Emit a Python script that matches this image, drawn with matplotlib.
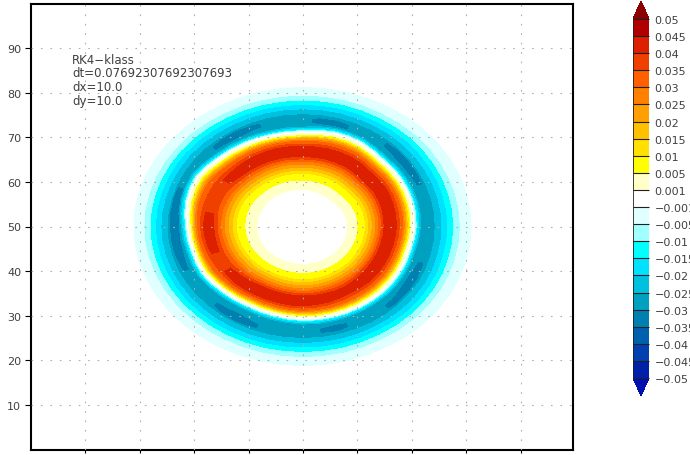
import numpy as np
import matplotlib
matplotlib.use('Agg')
import matplotlib.pyplot as plt

levels = [-0.05, -0.045, -0.04, -0.035, -0.03, -0.025, -0.02, -0.015, -0.01, -0.005, -0.001,
          0.001, 0.005, 0.01, 0.015, 0.02, 0.025, 0.03, 0.035, 0.04, 0.045, 0.05]
level_labels = ['−0.05', '−0.045', '−0.04', '−0.035', '−0.03', '−0.025', '−0.02', '−0.015', '−0.01', '−0.005', '−0.001',
                '0.001', '0.005', '0.01', '0.015', '0.02', '0.025', '0.03', '0.035', '0.04', '0.045', '0.05']
band_colors = ['#0020a8', '#0040b0', '#0060b0', '#0080b0', '#00a0c0', '#00c0e0', '#00e0ff', '#00ffff',
               '#a0ffff', '#e0ffff', '#ffffff', '#ffffc8', '#ffff00', '#ffe000', '#ffc000', '#ffa000',
               '#ff8000', '#ff6000', '#f04000', '#dc2000', '#b00000']
under_color = '#0010b0'
over_color = '#8b0000'

# ring, one entry per 7.5 degrees starting on the +x side
angles = np.arange(0, 360, 7.5)
inner_r = [8.2, 8.2, 8.2, 8.1, 8.0, 7.9, 7.9, 7.9, 8.0, 8.1, 8.2, 8.25,
           8.3, 8.35, 8.4, 8.45, 8.5, 8.5, 8.5, 8.5, 8.5, 8.5, 8.5, 8.5,
           8.5, 8.5, 8.5, 8.5, 8.5, 8.5, 8.5, 8.5, 8.5, 8.5, 8.5, 8.5,
           8.5, 8.5, 8.5, 8.45, 8.4, 8.4, 8.4, 8.35, 8.3, 8.3, 8.3, 8.25]
peak_r = [16.0, 16.05, 16.1, 16.2, 16.3, 16.25, 16.2, 16.45, 16.7, 16.75, 16.8, 16.8,
          16.8, 16.9, 17.0, 17.0, 17.0, 17.0, 17.0, 17.2, 17.4, 17.45, 17.5, 17.45,
          17.4, 17.3, 17.2, 17.1, 17.0, 16.9, 16.8, 16.65, 16.5, 16.55, 16.6, 16.65,
          16.7, 16.65, 16.6, 16.5, 16.4, 16.3, 16.2, 16.1, 16.0, 15.95, 15.9, 15.95]
peak_val = [0.044, 0.044, 0.044, 0.044, 0.044, 0.044, 0.044, 0.044, 0.044, 0.044, 0.044, 0.044,
            0.044, 0.044, 0.044, 0.0435, 0.043, 0.0425, 0.0415, 0.0405, 0.0385, 0.0385, 0.039, 0.0405,
            0.042, 0.0415, 0.041, 0.0395, 0.039, 0.0405, 0.042, 0.043, 0.044, 0.044, 0.044, 0.044,
            0.044, 0.043, 0.0425, 0.0415, 0.041, 0.042, 0.044, 0.044, 0.044, 0.044, 0.044, 0.044]
zero_r = [20.3, 20.4, 20.5, 20.55, 20.6, 20.6, 20.6, 20.9, 21.3, 21.45, 21.5, 21.25,
          21.0, 21.0, 21.0, 21.1, 21.2, 21.35, 21.5, 21.85, 22.2, 22.05, 21.8, 21.45,
          21.1, 20.95, 20.8, 20.85, 20.9, 20.65, 20.4, 20.25, 20.1, 20.2, 20.3, 20.45,
          20.6, 20.6, 20.6, 20.55, 20.5, 20.45, 20.4, 20.3, 20.2, 20.1, 20.0, 20.15]
trough_r = [23.0, 23.15, 23.3, 23.4, 23.5, 23.65, 23.8, 23.8, 23.8, 23.8, 23.8, 23.8,
            23.8, 23.9, 24.0, 24.0, 24.0, 24.0, 24.0, 24.15, 24.3, 24.15, 24.0, 23.8,
            23.6, 23.6, 23.6, 23.6, 23.6, 23.65, 23.7, 23.85, 24.0, 23.9, 23.8, 23.7,
            23.6, 23.6, 23.6, 23.6, 23.6, 23.7, 23.8, 23.55, 23.3, 23.15, 23.0, 23.0]
trough_val = [-0.0285, -0.0285, -0.029, -0.0298, -0.032, -0.033, -0.032, -0.0295, -0.029, -0.0295, -0.0318, -0.031,
              -0.029, -0.029, -0.0295, -0.0305, -0.033, -0.032, -0.0295, -0.029, -0.029, -0.0295, -0.033, -0.034,
              -0.034, -0.0338, -0.033, -0.0305, -0.029, -0.029, -0.0295, -0.0315, -0.033, -0.0305, -0.029, -0.029,
              -0.0293, -0.030, -0.0315, -0.0295, -0.029, -0.0295, -0.031, -0.0325, -0.033, -0.0305, -0.029, -0.0285]
band_r = [24.3, 24.35, 24.4, 24.5, 24.6, 24.75, 24.9, 25.0, 25.1, 25.2, 25.3, 25.3,
          25.3, 25.3, 25.3, 25.25, 25.2, 25.2, 25.2, 25.15, 25.1, 25.05, 25.0, 25.0,
          25.0, 25.0, 25.0, 25.0, 25.0, 25.0, 25.0, 25.05, 25.1, 25.1, 25.1, 25.1,
          25.1, 25.1, 25.1, 25.05, 25.0, 24.95, 24.9, 24.8, 24.7, 24.55, 24.4, 24.35]
outer_r = [31.1, 31.1, 31.1, 31.15, 31.2, 31.25, 31.3, 31.3, 31.3, 31.35, 31.4, 31.4,
           31.4, 31.4, 31.4, 31.35, 31.3, 31.3, 31.3, 31.3, 31.3, 31.3, 31.3, 31.3,
           31.25, 31.3, 31.3, 31.3, 31.3, 31.3, 31.3, 31.3, 31.3, 31.35, 31.4, 31.4,
           31.4, 31.4, 31.4, 31.35, 31.3, 31.3, 31.3, 31.25, 31.2, 31.15, 31.1, 31.1]

rise_vals = [0.001, 0.005, 0.01, 0.015, 0.02, 0.025, 0.03]
rise_pos = [0.0, 0.27, 0.46, 0.55, 0.64, 0.73, 0.81]
fall_vals = [0.03, 0.025, 0.02, 0.015, 0.01, 0.005, 0.001]
fall_pos = [0.44, 0.53, 0.62, 0.68, 0.74, 0.82, 0.97]
edge_vals = [-0.001, -0.005, -0.01, -0.015, -0.02, -0.025]
edge_off = [0.1, 0.3, 0.5, 0.7, 1.0, 1.3]
tail_vals = [-0.025, -0.02, -0.015, -0.01, -0.005, -0.001]
tail_pos = [0.0, 0.18, 0.34, 0.5, 0.68, 1.0]
plateau = 0.7
trough_plateau = 0.6

xticks = [10, 20, 30, 40, 50, 60, 70, 80, 90]
yticks = [10, 20, 30, 40, 50, 60, 70, 80, 90]
notes = ['RK4−klass', 'dt=0.07692307692307693', 'dx=10.0', 'dy=10.0']
note_y = [60, 74, 88, 102]

inner_r, peak_r, peak_val = np.array(inner_r), np.array(peak_r), np.array(peak_val)
zero_r, trough_r, trough_val = np.array(zero_r), np.array(trough_r), np.array(trough_val)
band_r, outer_r = np.array(band_r), np.array(outer_r)

radii = [inner_r - 2]
values = [0 * inner_r]
for v, p in zip(rise_vals, rise_pos):
    radii.append(inner_r + p * (peak_r - plateau - inner_r))
    values.append(v + 0 * inner_r)
radii += [peak_r - plateau, peak_r + plateau]
values += [peak_val, peak_val]
for v, p in zip(fall_vals, fall_pos):
    radii.append(peak_r + plateau + p * (zero_r - peak_r - plateau))
    values.append(v + 0 * inner_r)
for v, o in zip(edge_vals, edge_off):
    radii.append(zero_r + o)
    values.append(v + 0 * inner_r)
radii += [trough_r - trough_plateau, trough_r + trough_plateau]
values += [trough_val, trough_val]
for v, p in zip(tail_vals, tail_pos):
    radii.append(band_r + p * (outer_r - band_r))
    values.append(v + 0 * inner_r)
radii.append(outer_r + 1.5)
values.append(0 * inner_r)

radii = np.array(radii).T
values = np.array(values).T
radii = np.vstack([radii, radii[0]])
values = np.vstack([values, values[0]])
theta = np.deg2rad(np.append(angles, 360))[:, None]
X = 50 + radii * np.cos(theta)
Y = 50 + radii * np.sin(theta)

W, H = 690, 456
fig = plt.figure(figsize=(W / 100, H / 100), dpi=100)
ax = fig.add_axes([31 / W, 1 - 450.5 / H, 542 / W, 446 / H])
cs = ax.contourf(X, Y, values, levels=levels, colors=band_colors, extend='both')
cs.cmap.set_under(under_color)
cs.cmap.set_over(over_color)
cs.changed()

ax.set_xlim(0, 99.63)
ax.set_ylim(0, 100)
ax.set_xticks(xticks)
ax.set_yticks(yticks)
ax.set_axisbelow(False)
ax.grid(True, color='#b0b0b0', linewidth=0.8, linestyle=(0, (1.5, 7)))
ax.tick_params(length=4, width=0.8, labelsize=8, labelcolor='#404040', pad=3)
ax.tick_params(axis='x', length=2.5, pad=0.5)
for s in ax.spines.values():
    s.set_linewidth(1.5)

for txt, py in zip(notes, note_y):
    ax.text(72 / W, 1 - py / H, txt, transform=fig.transFigure, fontsize=8.5, color='#404040', va='center')

cax = fig.add_axes([633 / W, 1 - 397 / H, 16 / W, 395 / H])
cbar = fig.colorbar(cs, cax=cax, spacing='uniform', extendfrac=0.05, drawedges=True, ticks=levels)
cbar.ax.set_yticklabels(level_labels)
cbar.ax.tick_params(length=0, labelsize=8, labelcolor='#404040', pad=4)
cbar.outline.set_visible(False)
cbar.dividers.set_color('#202020')
cbar.dividers.set_linewidth(0.8)
cax.axvline(cax.get_xlim()[0], color='#202020', linewidth=1.2)

fig.savefig('out.png', dpi=100)
